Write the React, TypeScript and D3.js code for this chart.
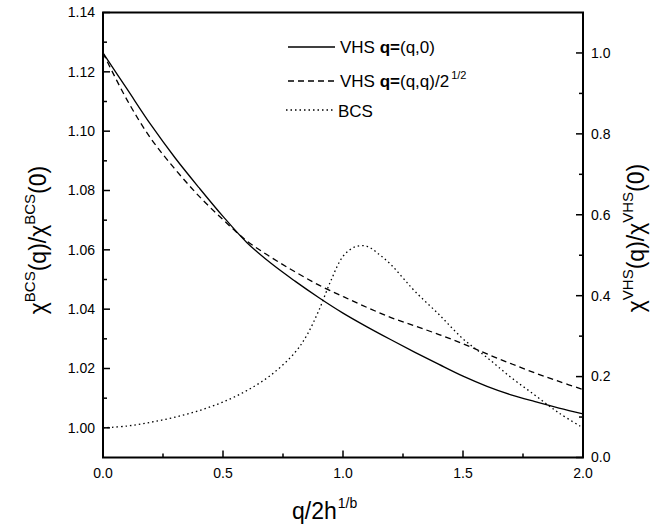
import React, { useEffect, useRef } from "react";
import * as d3 from "d3";

// q / 2h^(1/b)
const qVals = [0, 0.1, 0.2, 0.3, 0.4, 0.5, 0.6, 0.7, 0.8, 0.9, 1.0, 1.1, 1.2, 1.3, 1.4, 1.5, 1.6, 1.7, 1.8, 1.9, 2.0];

// VHS, right axis
const vhsQ0 = [1.0, 0.911, 0.822, 0.741, 0.667, 0.596, 0.531, 0.480, 0.436, 0.395, 0.357, 0.323, 0.291, 0.260, 0.230, 0.201, 0.176, 0.155, 0.138, 0.122, 0.108];
const vhsQQ = [1.0, 0.884, 0.788, 0.713, 0.646, 0.588, 0.535, 0.495, 0.459, 0.426, 0.398, 0.371, 0.346, 0.325, 0.304, 0.281, 0.256, 0.232, 0.209, 0.188, 0.168];

// BCS, left axis
const bcsQ = [0, 0.1, 0.2, 0.3, 0.4, 0.5, 0.6, 0.7, 0.8, 0.85, 0.9, 0.95, 1.0, 1.05, 1.1, 1.15, 1.2, 1.25, 1.3, 1.4, 1.5, 1.6, 1.7, 1.8, 1.9, 2.0];
const bcsVals = [1.0, 1.0006, 1.0019, 1.0036, 1.0058, 1.0087, 1.0126, 1.0178, 1.0254, 1.0313, 1.0397, 1.0497, 1.0578, 1.0610, 1.0612, 1.0585, 1.055, 1.0505, 1.046, 1.0382, 1.03, 1.0237, 1.017, 1.011, 1.005, 1.0];

const xTicks = [0, 0.5, 1.0, 1.5, 2.0];
const leftTicks = [1.0, 1.02, 1.04, 1.06, 1.08, 1.1, 1.12, 1.14];
const rightTicks = [0, 0.2, 0.4, 0.6, 0.8, 1.0];

const FONT = "'Liberation Sans', Arial, sans-serif";

function Chart() {
    const ref = useRef<SVGSVGElement>(null);

    useEffect(() => {
        const svg = d3.select(ref.current);
        svg.selectAll("*").remove();

        const left = 103, right = 583, top = 12.5, bottom = 457.5;

        const x = d3.scaleLinear().domain([0, 2]).range([left, right]);
        const yL = d3.scaleLinear().domain([0.99, 1.14]).range([bottom, top]);
        const yR = d3.scaleLinear().domain([0, 1.1]).range([bottom, top]);

        const g = svg.append("g").attr("font-family", FONT).attr("fill", "#000");

        // frame
        g.append("rect")
            .attr("x", left).attr("y", top)
            .attr("width", right - left).attr("height", bottom - top)
            .attr("fill", "none").attr("stroke", "#000").attr("stroke-width", 2);

        // bottom ticks (inward)
        d3.range(0, 9).forEach(i => {
            const v = i * 0.25;
            const major = i % 2 === 0;
            g.append("line")
                .attr("x1", x(v)).attr("x2", x(v))
                .attr("y1", bottom).attr("y2", bottom - (major ? 7 : 4))
                .attr("stroke", "#000").attr("stroke-width", 1.5);
        });
        xTicks.forEach(v => {
            g.append("text")
                .attr("x", x(v)).attr("y", 478)
                .attr("text-anchor", "middle")
                .attr("font-size", 14)
                .text(d3.format(".1f")(v));
        });

        // left ticks
        d3.range(0, 15).forEach(i => {
            const v = 1.0 + i * 0.01;
            const major = i % 2 === 0;
            g.append("line")
                .attr("x1", left).attr("x2", left + (major ? 7 : 4))
                .attr("y1", yL(v)).attr("y2", yL(v))
                .attr("stroke", "#000").attr("stroke-width", 1.5);
        });
        leftTicks.forEach(v => {
            g.append("text")
                .attr("x", 95).attr("y", yL(v))
                .attr("dy", "0.35em")
                .attr("text-anchor", "end")
                .attr("font-size", 14)
                .text(d3.format(".2f")(v));
        });

        // right ticks
        d3.range(0, 11).forEach(i => {
            const v = i * 0.1;
            const major = i % 2 === 0;
            g.append("line")
                .attr("x1", right).attr("x2", right - (major ? 7 : 4))
                .attr("y1", yR(v)).attr("y2", yR(v))
                .attr("stroke", "#000").attr("stroke-width", 1.5);
        });
        rightTicks.forEach(v => {
            g.append("text")
                .attr("x", 591).attr("y", yR(v))
                .attr("dy", "0.35em")
                .attr("font-size", 14)
                .text(d3.format(".1f")(v));
        });

        // curves
        const lineR = d3.line<number>()
            .x((d, i) => x(qVals[i]))
            .y(d => yR(d))
            .curve(d3.curveCatmullRom.alpha(0.5));
        const lineL = d3.line<number>()
            .x((d, i) => x(bcsQ[i]))
            .y(d => yL(d))
            .curve(d3.curveCatmullRom.alpha(0.5));

        g.append("path").attr("d", lineR(vhsQ0))
            .attr("fill", "none").attr("stroke", "#000").attr("stroke-width", 1.3);
        g.append("path").attr("d", lineR(vhsQQ))
            .attr("fill", "none").attr("stroke", "#000").attr("stroke-width", 1.3)
            .attr("stroke-dasharray", "6,4");
        g.append("path").attr("d", lineL(bcsVals))
            .attr("fill", "none").attr("stroke", "#000").attr("stroke-width", 1.3)
            .attr("stroke-dasharray", "1.5,3");

        // legend
        const legend = [
            { y: 47, dash: null, x0: 288, x1: 335 },
            { y: 81, dash: "6,4", x0: 288, x1: 335 },
            { y: 110, dash: "1.5,3", x0: 286, x1: 333 },
        ];
        legend.forEach(l => {
            const ln = g.append("line")
                .attr("x1", l.x0).attr("x2", l.x1)
                .attr("y1", l.y).attr("y2", l.y)
                .attr("stroke", "#000").attr("stroke-width", 1.3);
            if (l.dash) ln.attr("stroke-dasharray", l.dash);
        });

        const t1 = g.append("text").attr("x", 340).attr("y", 53).attr("font-size", 17);
        t1.append("tspan").text("VHS ");
        t1.append("tspan").attr("font-weight", "bold").text("q=");
        t1.append("tspan").text("(q,0)");

        const t2 = g.append("text").attr("x", 340).attr("y", 87).attr("font-size", 17);
        t2.append("tspan").text("VHS ");
        t2.append("tspan").attr("font-weight", "bold").text("q=");
        t2.append("tspan").text("(q,q)/2");
        t2.append("tspan").attr("font-size", 11).attr("dy", -8).attr("dx", 2).text("1/2");

        g.append("text").attr("x", 338).attr("y", 117).attr("font-size", 17).text("BCS");

        // x title
        const xt = g.append("text").attr("x", 292).attr("y", 519).attr("font-size", 23);
        xt.append("tspan").text("q/2h");
        xt.append("tspan").attr("font-size", 14).attr("dy", -11).attr("dx", 1).text("1/b");

        // y titles
        const yTitle = (cx: number, cy: number, sup: string) => {
            const t = g.append("text")
                .attr("transform", `translate(${cx},${cy}) rotate(-90)`)
                .attr("text-anchor", "middle")
                .attr("font-size", 23);
            t.append("tspan").text("χ");
            t.append("tspan").attr("font-size", 15).attr("dy", -11).text(sup);
            t.append("tspan").attr("dy", 11).text("(q)/χ");
            t.append("tspan").attr("font-size", 15).attr("dy", -11).text(sup);
            t.append("tspan").attr("dy", 11).text("(0)");
        };
        yTitle(46, 240, "BCS");
        yTitle(644, 238, "VHS");
    }, []);

    return (
        <svg ref={ref} width={652} height={529}
            style={{ position: "absolute", left: 0, top: 0, background: "#fff" }} />
    );
}

export default function App() {
    return <Chart />;
}
